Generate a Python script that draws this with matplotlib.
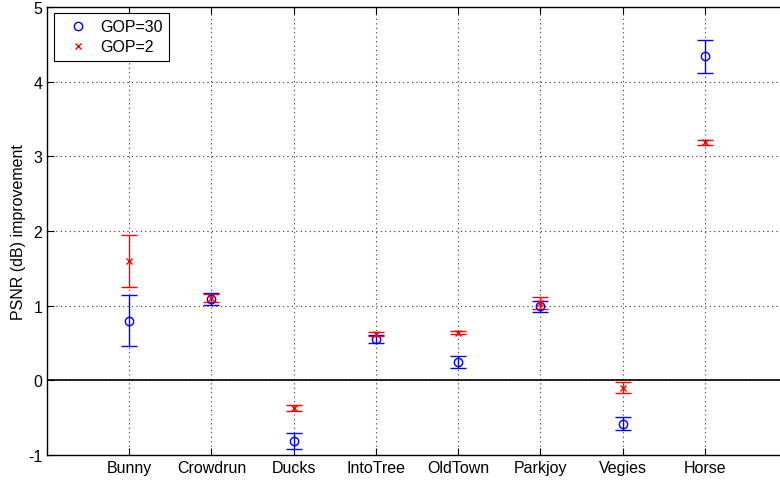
import matplotlib
matplotlib.use("Agg")
import numpy as np
import matplotlib.pyplot as plt
from matplotlib.lines import Line2D

plt.rcParams['font.family'] = ['Liberation Sans', 'DejaVu Sans']
plt.rcParams['axes.unicode_minus'] = False

# data
videos = ['Bunny', 'Crowdrun', 'Ducks', 'IntoTree', 'OldTown', 'Parkjoy', 'Vegies', 'Horse']
gop30 = [0.80, 1.09, -0.81, 0.55, 0.24, 0.99, -0.58, 4.34]
gop30_err = [0.34, 0.075, 0.11, 0.055, 0.08, 0.07, 0.085, 0.22]
gop2 = [1.60, 1.10, -0.37, 0.62, 0.64, 1.03, -0.10, 3.19]
gop2_err = [0.35, 0.05, 0.04, 0.03, 0.02, 0.08, 0.075, 0.035]

x = np.arange(1, len(videos) + 1)

fig = plt.figure(figsize=(7.8, 4.81), dpi=100)
ax = fig.add_axes([47 / 780, 1 - 456 / 481, 740 / 780, 448 / 481])

ax.errorbar(x, gop30, yerr=gop30_err, fmt='o', color='blue', mfc='none',
            ms=6, mew=1, elinewidth=1, capsize=6, capthick=1, zorder=3)
ax.errorbar(x, gop2, yerr=gop2_err, fmt='x', color='red',
            ms=4, mew=1, elinewidth=1, capsize=6, capthick=1, zorder=3)
ax.axhline(0, color='black', lw=1.2, zorder=2)

ax.set_xlim(0, 9)
ax.set_ylim(-1, 5)
ax.set_xticks(x)
ax.set_xticklabels(videos)
ax.set_yticks(range(-1, 6))
ax.grid(True, color='black', linestyle=(0, (1, 3)), linewidth=0.8, alpha=0.8)
ax.tick_params(direction='in', top=True, right=False, length=5, labelsize=11.5)
ax.set_ylabel('PSNR (dB) improvement', fontsize=11.5)
ax.yaxis.set_label_coords(-0.029, 0.5)
ax.spines['right'].set_visible(False)
for s in ax.spines.values():
    s.set_linewidth(1)

handles = [Line2D([], [], ls='none', marker='o', color='blue', mfc='none', ms=6),
           Line2D([], [], ls='none', marker='x', color='red', ms=4)]
leg = ax.legend(handles, ['GOP=30', 'GOP=2'], loc='upper left', fontsize=11.5,
                fancybox=False, framealpha=1, edgecolor='black',
                handlelength=2.2, handletextpad=0.275, labelspacing=0.3,
                borderaxespad=0, bbox_to_anchor=(0.0095, 0.9866))
leg.get_frame().set_linewidth(0.8)

fig.savefig('out.png', dpi=100)
